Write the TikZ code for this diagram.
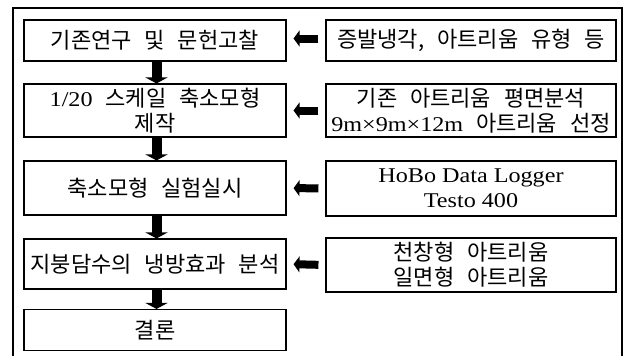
\documentclass[tikz,border=0pt]{standalone}
\usepackage{fontspec}
\setmainfont[FakeStretch=1.15]{Liberation Serif}
\newfontfamily\kr[WordSpace=2.6,Scale=1.05]{Noto Sans CJK KR}
\usetikzlibrary{arrows.meta}
\tikzset{
  box/.style={draw, line width=1.1pt, rectangle, inner sep=0pt, align=center,
    font=\fontsize{21}{25}\selectfont},
  lbox/.style={box, minimum width=262pt},
  rbox/.style={box, minimum width=290pt},
  downarr/.style={line width=10pt, -{Triangle[width=22pt,length=6pt]}},
  leftarr/.style={line width=8pt, -{Triangle[width=16pt,length=6pt]}, shorten <=7pt, shorten >=7pt},
}
\begin{document}
\begin{tikzpicture}[x=1pt,y=-1pt]
\useasboundingbox (0,0) rectangle (624,356);
\draw[line width=1.1pt] (13,356) -- (13,8) -- (622,8) -- (622,356);

\node[lbox, minimum height=41pt] (l1) at (155,40.5) {{\kr 기존연구 및 문헌고찰}};
\node[lbox, minimum height=53pt] (l2) at (155,110.5) {1/20{\kr\ 스케일 축소모형}\\{\kr 제작}};
\node[lbox, minimum height=54pt] (l3) at (155,188) {{\kr 축소모형 실험실시}};
\node[lbox, minimum height=50pt] (l4) at (155,264) {{\kr 지붕담수의 냉방효과 분석}};
\node[lbox, minimum height=41pt] (l5) at (155,330) {{\kr 결론}};

\node[rbox, minimum height=41pt] (r1) at (471,40.5) {{\kr 증발냉각, 아트리움 유형 등}};
\node[rbox, minimum height=53pt] (r2) at (471,110.5) {{\kr 기존 아트리움 평면분석}\\9m×9m×12m{\kr\ 아트리움 선정}};
\node[rbox, minimum height=55pt] (r3) at (471,188.5) {HoBo Data Logger\\Testo 400};
\node[rbox, minimum height=54pt] (r4) at (471,265) {{\kr 천창형 아트리움}\\{\kr 일면형 아트리움}};

\draw[downarr] ([xshift=1.5pt]l1.south) -- ([xshift=1.5pt]l2.north);
\draw[downarr] ([xshift=1.5pt]l2.south) -- ([xshift=1.5pt]l3.north);
\draw[downarr] ([xshift=1.5pt]l3.south) -- ([xshift=1.5pt]l4.north);
\draw[downarr] ([xshift=1.5pt]l4.south) -- ([xshift=1.5pt]l5.north);

\draw[leftarr] ([yshift=2pt]r1.west) -- ([yshift=2pt]l1.east);
\draw[leftarr] (r2.west) -- (l2.east);
\draw[leftarr] (r3.west) -- (l3.east);
\draw[leftarr] (r4.west) -- (l4.east);
\end{tikzpicture}
\end{document}
